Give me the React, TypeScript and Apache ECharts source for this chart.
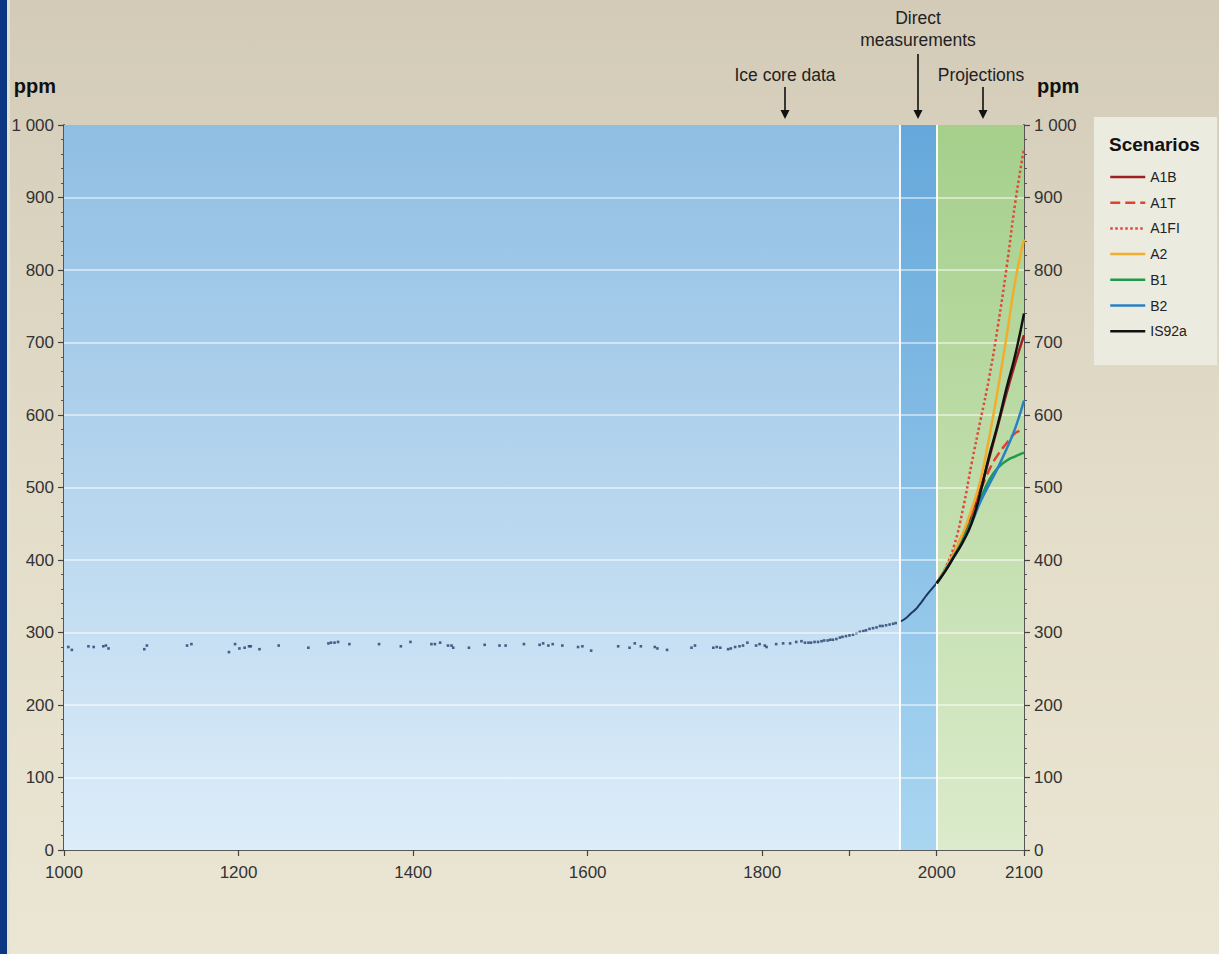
import React, { useEffect, useRef } from "react";
import * as echarts from "echarts";

const FONT = "'Liberation Sans', Arial, Helvetica, sans-serif";

// Ice core data (year, ppm)
const ICE_YEARS = [1005, 1009, 1028, 1034, 1045, 1048, 1051, 1092, 1095, 1141, 1146, 1189, 1196, 1201, 1207, 1212, 1214, 1224, 1246, 1280, 1303, 1306, 1310, 1314, 1327, 1361, 1386, 1397, 1421, 1425, 1431, 1440, 1444, 1446, 1464, 1482, 1499, 1506, 1527, 1545, 1549, 1555, 1560, 1571, 1589, 1594, 1604, 1635, 1648, 1654, 1661, 1677, 1680, 1691, 1719, 1723, 1744, 1748, 1752, 1761, 1764, 1769, 1774, 1778, 1783, 1793, 1797, 1803, 1805, 1816, 1824, 1832, 1839, 1845, 1849, 1853, 1856, 1860, 1864, 1868, 1871, 1875, 1878, 1881, 1885, 1889, 1892, 1896, 1900, 1904, 1908, 1912, 1916, 1919, 1923, 1927, 1931, 1935, 1938, 1942, 1946, 1950, 1953];
const ICE_PPM = [280, 276, 281, 280, 281, 282, 278, 277, 282, 282, 284, 273, 284, 278, 279, 281, 281, 277, 282, 279, 285, 286, 286, 287, 284, 284, 281, 287, 284, 284, 286, 282, 282, 279, 279, 283, 282, 282, 284, 283, 285, 282, 284, 282, 280, 281, 275, 281, 279, 285, 281, 280, 278, 276, 279, 282, 279, 280, 279, 277, 278, 280, 281, 282, 286, 282, 284, 282, 280, 284, 285, 285, 287, 288, 286, 286, 286, 287, 287, 288, 289, 289, 290, 290, 291, 293, 294, 295, 296, 297, 299, 301, 302, 303, 305, 306, 307, 309, 309, 310, 311, 312, 313];

// Direct measurements
const DIRECT_YEARS = [1958, 1965, 1970, 1975, 1980, 1985, 1990, 1995, 2000];
const DIRECT_PPM = [315, 320, 326, 331, 338, 346, 354, 361, 368];

// Projections
const PROJ_YEARS = [2000, 2010, 2020, 2030, 2040, 2050, 2060, 2070, 2080, 2090, 2100];
const A1B = [368, 387, 408, 432, 460, 498, 540, 585, 630, 672, 710];
const A1T = [368, 388, 411, 436, 463, 495, 524, 545, 561, 575, 580];
const A1FI = [368, 389, 420, 470, 533, 592, 651, 722, 803, 893, 968];
const A2 = [368, 388, 410, 437, 470, 510, 568, 635, 708, 785, 842];
const B1 = [368, 386, 406, 428, 455, 484, 510, 527, 537, 543, 548];
const B2 = [368, 386, 405, 426, 451, 480, 504, 527, 553, 582, 620];
const IS92A = [368, 385, 405, 425, 451, 493, 543, 587, 637, 683, 740];

const SCENARIOS = ["A1B", "A1T", "A1FI", "A2", "B1", "B2", "IS92a"];
const SCENARIO_VALUES = [A1B, A1T, A1FI, A2, B1, B2, IS92A];
const SCENARIO_COLORS = ["#9e1f24", "#e2412f", "#e0483c", "#f1ad2c", "#1e9a48", "#2a80c2", "#111111"];
const SCENARIO_DASH = ["solid", "dashed", "dotted", "solid", "solid", "solid", "solid"];

// Period bands
const BAND_EDGES = [[1000, 1958], [1958, 2000], [2000, 2100]];
const BAND_COLORS = [
  ["#8fbee3", "#ddedf9"],
  ["#66a8db", "#a9d6f1"],
  ["#a5cf8b", "#dbebcb"],
];

const X_TICKS = [1000, 1200, 1400, 1600, 1800, 1900, 2000, 2100];
const X_LABELS = [1000, 1200, 1400, 1600, 1800, 2000, 2100];
const GRID_LEVELS = [100, 200, 300, 400, 500, 600, 700, 800, 900];

const vgrad = (a: string, b: string) =>
  new echarts.graphic.LinearGradient(0, 0, 0, 1, [
    { offset: 0, color: a },
    { offset: 1, color: b },
  ]);

function arrow(x: number, y1: number, y2: number) {
  return [
    { type: "line", shape: { x1: x, y1, x2: x, y2: y2 - 7 }, style: { stroke: "#111", lineWidth: 1.6 } },
    { type: "polygon", shape: { points: [[x - 4.5, y2 - 9], [x + 4.5, y2 - 9], [x, y2]] }, style: { fill: "#111" } },
  ];
}

export default function App() {
  const ref = useRef<HTMLDivElement>(null);
  useEffect(() => {
    if (!ref.current) return;
    const chart = echarts.init(ref.current, null, { renderer: "svg" });
    const yFmt = (v: number) => (v === 1000 ? "1 000" : String(v));
    const yAxisBase = (pos: "left" | "right") => ({
      type: "value",
      position: pos,
      min: 0,
      max: 1000,
      interval: 100,
      axisLine: { show: true, lineStyle: { color: "#555", width: 2 } },
      axisTick: { show: true, length: 6, lineStyle: { color: "#444", width: 1.2 } },
      minorTick: { show: true, splitNumber: 5, length: 3, lineStyle: { color: "#555", width: 1 } },
      axisLabel: { formatter: yFmt, fontSize: 17, color: "#333", fontFamily: FONT, margin: 10 },
      splitLine: { show: false },
      name: "ppm",
      nameLocation: "end",
      nameGap: 29,
      nameTextStyle: {
        fontWeight: "bold",
        fontSize: 20,
        color: "#111",
        fontFamily: FONT,
        align: pos === "left" ? "right" : "left",
        padding: pos === "left" ? [0, 8, 0, 0] : [0, 0, 0, 13],
      },
    });

    const graphic: any[] = [
      { type: "rect", shape: { x: 0, y: 0, width: 7, height: 954 }, style: { fill: "#0c3682" }, silent: true },
      { type: "rect", shape: { x: 7, y: 0, width: 3, height: 954 }, style: { fill: "#e0e2d3" }, silent: true },
      { type: "rect", shape: { x: 1094, y: 117, width: 123, height: 248 }, style: { fill: "#ecebe0" }, silent: true, z: -1 },
      { type: "text", x: 1109, y: 144, style: { text: "Scenarios", font: `bold 19px ${FONT}`, fill: "#111", textVerticalAlign: "middle" } },
      { type: "text", x: 785, y: 75, style: { text: "Ice core data", font: `17.5px ${FONT}`, fill: "#222", textAlign: "center", textVerticalAlign: "middle" } },
      { type: "text", x: 918, y: 18, style: { text: "Direct", font: `17.5px ${FONT}`, fill: "#222", textAlign: "center", textVerticalAlign: "middle" } },
      { type: "text", x: 918, y: 40, style: { text: "measurements", font: `17.5px ${FONT}`, fill: "#222", textAlign: "center", textVerticalAlign: "middle" } },
      { type: "text", x: 981, y: 75, style: { text: "Projections", font: `17.5px ${FONT}`, fill: "#222", textAlign: "center", textVerticalAlign: "middle" } },
      ...arrow(785, 87, 119),
      ...arrow(918, 54, 119),
      ...arrow(983, 87, 119),
    ];

    const option: any = {
      animation: false,
      backgroundColor: "transparent",
      textStyle: { fontFamily: FONT },
      grid: { left: 64, right: 195, top: 125, bottom: 104, containLabel: false },
      legend: {
        data: SCENARIOS,
        orient: "vertical",
        left: 1104,
        top: 165,
        itemWidth: 35,
        itemHeight: 14,
        itemGap: 11.7,
        itemStyle: { opacity: 0 },
        lineStyle: { width: 2.5 },
        textStyle: { fontSize: 14, color: "#222", fontFamily: FONT },
        selectedMode: false,
      },
      xAxis: {
        type: "value",
        min: 1000,
        max: 2100,
        axisLine: { show: true, lineStyle: { color: "#5a5a5a", width: 2 } },
        axisTick: { show: true, customValues: X_TICKS, length: 6, lineStyle: { color: "#444", width: 1.2 } },
        axisLabel: { customValues: X_LABELS, formatter: (v: number) => String(v), fontSize: 17, color: "#333", fontFamily: FONT, margin: 14 },
        splitLine: { show: false },
      },
      yAxis: [yAxisBase("left"), yAxisBase("right")],
      graphic,
      series: [
        {
          type: "line",
          name: "bands",
          data: [],
          z: 1,
          silent: true,
          markArea: {
            silent: true,
            data: BAND_EDGES.map((b, i) => [
              { xAxis: b[0], itemStyle: { color: vgrad(BAND_COLORS[i][0], BAND_COLORS[i][1]), opacity: 1 } },
              { xAxis: b[1] },
            ]),
          },
        },
        {
          type: "line",
          name: "gridlines",
          data: [],
          z: 2,
          silent: true,
          markLine: {
            silent: true,
            symbol: ["none", "none"],
            label: { show: false },
            data: [
              ...GRID_LEVELS.map((v) => ({ yAxis: v, lineStyle: { color: "rgba(255,255,255,0.65)", width: 1.5, type: "solid" } })),
              ...[BAND_EDGES[1][0], BAND_EDGES[2][0]].map((v) => ({ xAxis: v, lineStyle: { color: "rgba(255,255,255,0.9)", width: 2, type: "solid" } })),
            ],
          },
        },
        {
          type: "scatter",
          name: "Ice core data",
          data: ICE_YEARS.map((y, i) => [y, ICE_PPM[i]]),
          symbol: "rect",
          symbolSize: 2.6,
          itemStyle: { color: "#223f6c" },
          z: 3,
          silent: true,
        },
        {
          type: "line",
          name: "Direct measurements",
          data: DIRECT_YEARS.map((y, i) => [y, DIRECT_PPM[i]]),
          symbol: "none",
          smooth: true,
          lineStyle: { color: "#1d3865", width: 2 },
          z: 4,
          silent: true,
        },
        ...SCENARIOS.map((name, k) => ({
          type: "line",
          name,
          data: PROJ_YEARS.map((y, i) => [y, SCENARIO_VALUES[k][i]]),
          symbol: "none",
          smooth: true,
          lineStyle: { color: SCENARIO_COLORS[k], width: 2.5, type: SCENARIO_DASH[k] },
          itemStyle: { color: SCENARIO_COLORS[k] },
          z: 5,
          silent: true,
        })),
      ],
    };
    chart.setOption(option);
    return () => chart.dispose();
  }, []);

  return (
    <div
      style={{
        position: "absolute",
        left: 0,
        top: 0,
        width: 1219,
        height: 954,
        background: "linear-gradient(to bottom, #d3cbb8 0%, #e2dcc8 50%, #ebe6d3 100%)",
      }}
    >
      <div ref={ref} style={{ width: 1219, height: 954 }} />
    </div>
  );
}
